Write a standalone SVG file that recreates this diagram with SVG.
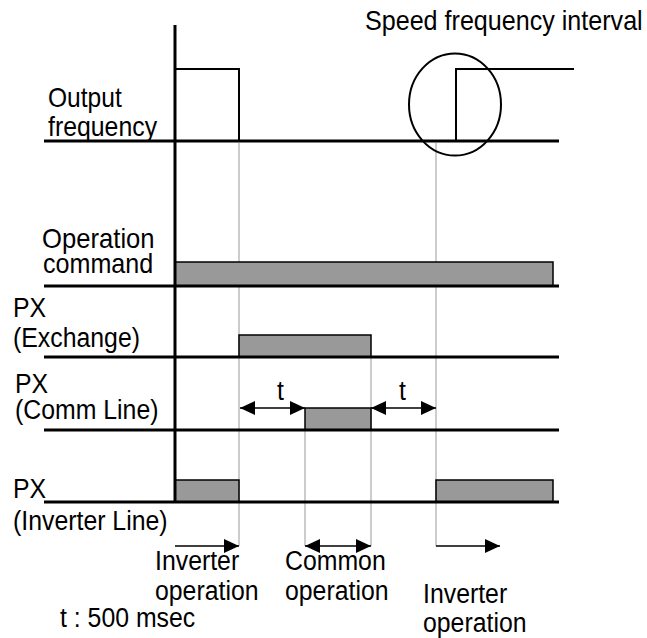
<svg xmlns="http://www.w3.org/2000/svg" width="647" height="638" viewBox="0 0 647 638">
<defs>
<style>
text{font-family:"Liberation Sans",Arial,sans-serif;font-size:27px;fill:#000}
.base{stroke:#000;stroke-width:3;fill:none}
.sig{stroke:#000;stroke-width:2;fill:none}
.bar{fill:#999;stroke:#000;stroke-width:1.5}
.guide{stroke:#bbb;stroke-width:1.5;fill:none}
.arr{stroke:#000;stroke-width:1.5;fill:none}
</style>
<marker id="ah" viewBox="0 0 15 14" refX="15" refY="7" markerWidth="15" markerHeight="14" markerUnits="userSpaceOnUse" orient="auto-start-reverse">
<path d="M0,0 L15,7 L0,14 Z" fill="#000"/>
</marker>
</defs>
<rect width="647" height="638" fill="#fff"/>
<g id="guides">
<line class="guide" x1="239" y1="143" x2="239" y2="546"/>
<line class="guide" x1="305" y1="430" x2="305" y2="546"/>
<line class="guide" x1="371" y1="357" x2="371" y2="546"/>
<line class="guide" x1="436" y1="143" x2="436" y2="546"/>
</g>
<g id="output-frequency">
<polyline class="sig" points="175,69 239,69 239,141"/>
<polyline class="sig" points="456,141 456,69 574,69"/>
<line class="base" x1="44" y1="141" x2="559" y2="141"/>
<ellipse class="sig" cx="455" cy="104.5" rx="46" ry="51"/>
<text transform="matrix(0.91 0 0 1 48 107)">Output</text>
<text transform="matrix(0.92 0 0 1 48 136)">frequency</text>
<text transform="matrix(0.93 0 0 1 365 30)">Speed frequency interval</text>
</g>
<g id="operation-command">
<rect class="bar" x="175" y="262" width="378" height="24"/>
<line class="base" x1="44" y1="286" x2="559" y2="286"/>
<text transform="matrix(0.95 0 0 1 42 248)">Operation</text>
<text transform="matrix(0.93 0 0 1 43 273)">command</text>
</g>
<g id="px-exchange">
<rect class="bar" x="239" y="335" width="132" height="22"/>
<line class="base" x1="44" y1="357" x2="559" y2="357"/>
<text transform="matrix(0.92 0 0 1 13 316.5)">PX</text>
<text transform="matrix(0.92 0 0 1 13 346.5)">(Exchange)</text>
</g>
<g id="px-comm-line">
<rect class="bar" x="305" y="408" width="66" height="22"/>
<line class="base" x1="44" y1="430" x2="559" y2="430"/>
<text transform="matrix(0.92 0 0 1 15 393)">PX</text>
<text transform="matrix(0.92 0 0 1 15 419)">(Comm Line)</text>
<text transform="matrix(0.92 0 0 1 277 400)">t</text>
<text transform="matrix(0.92 0 0 1 399 400)">t</text>
</g>
<g id="px-inverter-line">
<rect class="bar" x="175" y="480" width="64" height="22"/>
<rect class="bar" x="436" y="480" width="117" height="22"/>
<line class="base" x1="44" y1="502" x2="559" y2="502"/>
<text transform="matrix(0.92 0 0 1 13 498)">PX</text>
<text transform="matrix(0.92 0 0 1 13 530)">(Inverter Line)</text>
</g>
<g id="axis">
<line class="base" x1="175" y1="25" x2="175" y2="503"/>
</g>
<g id="connectors">
<line class="arr" x1="240" y1="408" x2="305" y2="408" marker-start="url(#ah)" marker-end="url(#ah)"/>
<line class="arr" x1="371" y1="408" x2="436" y2="408" marker-start="url(#ah)" marker-end="url(#ah)"/>
<line class="arr" x1="175" y1="546" x2="239" y2="546" marker-end="url(#ah)"/>
<line class="arr" x1="305" y1="546" x2="371" y2="546" marker-start="url(#ah)" marker-end="url(#ah)"/>
<line class="arr" x1="436" y1="546" x2="500" y2="546" marker-end="url(#ah)"/>
</g>
<g id="labels">
<text transform="matrix(0.92 0 0 1 155 570)">Inverter</text>
<text transform="matrix(0.92 0 0 1 155 600)">operation</text>
<text transform="matrix(0.92 0 0 1 285 570)">Common</text>
<text transform="matrix(0.92 0 0 1 285 600)">operation</text>
<text transform="matrix(0.92 0 0 1 423 603)">Inverter</text>
<text transform="matrix(0.92 0 0 1 423 632)">operation</text>
<text transform="matrix(0.92 0 0 1 60 627)">t : 500 msec</text>
</g>
</svg>
